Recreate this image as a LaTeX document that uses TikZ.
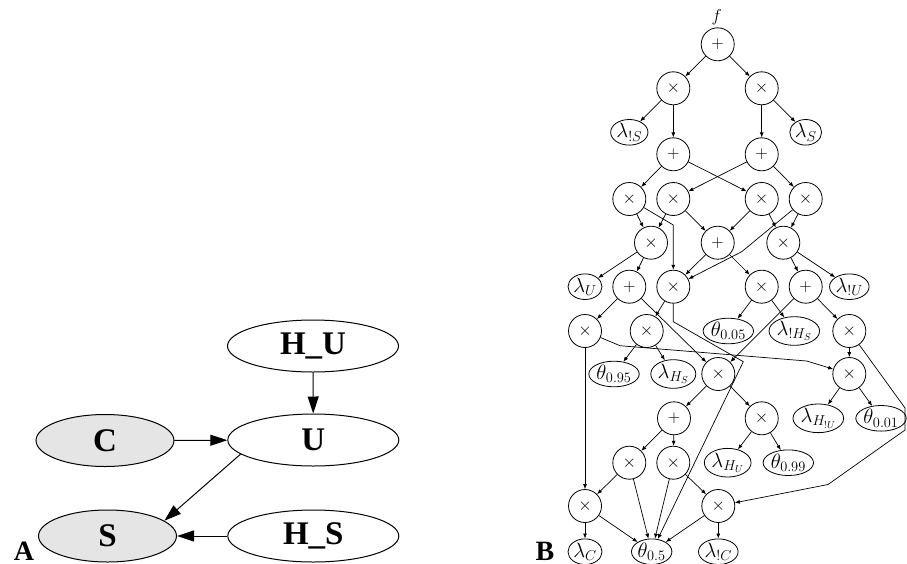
\documentclass[tikz,border=0pt]{standalone}
\usepackage{fontspec}
\newfontfamily\timesfam{Liberation Serif}
\usetikzlibrary{arrows.meta,shapes.geometric}
\definecolor{grayfill}{RGB}{229,229,229}
\tikzset{
  opnode/.style={circle, draw, line width=0.8pt, minimum size=33pt, inner sep=0pt, font=\fontsize{18}{20}\selectfont},
  leaf/.style={ellipse, draw, line width=0.8pt, inner sep=0.3pt, font=\fontsize{20}{22}\selectfont},
  bedge/.style={-{Latex[length=5pt,width=4pt]}, line width=0.7pt},
  bignode/.style={ellipse, draw, line width=1pt, minimum height=52pt, minimum width=171pt, font=\timesfam\bfseries\fontsize{33}{36}\selectfont},
  shaded/.style={fill=grayfill, minimum width=138pt},
  aedge/.style={-{Triangle[length=17pt,width=11pt]}, line width=1pt},
  panel/.style={font=\timesfam\bfseries\fontsize{28}{28}\selectfont, anchor=base, inner sep=0pt},
}
\begin{document}
\begin{tikzpicture}[x=1pt,y=-1pt]
\useasboundingbox (0,0) rectangle (907,563);
% ---------- Part A ----------
\node[bignode] (HU) at (313,346) {H\_U};
\node[bignode, shaded] (C) at (105,440.5) {C};
\node[bignode] (U) at (313.3,440) {U};
\node[bignode, shaded] (S) at (107.5,536) {S};
\node[bignode] (HS) at (313.3,536) {H\_S};
\draw[aedge] (HU) -- (U);
\draw[aedge] (C) -- (U);
\draw[aedge] (U.191) -- (S.15);
\draw[aedge] (HS) -- (S);
\node[panel] (labA) at (24,560.5) {A};
\node[panel] (labB) at (545,560) {B};
% ---------- Part B ----------
\node[opnode] (n0) at (717.7,44.3) {$+$};
\node[font=\fontsize{16}{18}\selectfont] (flab) at (716.7,17) {$f$};
\node[opnode] (n1) at (673.3,88.3) {$\times$};
\node[opnode] (n2) at (761.7,88.3) {$\times$};
\node[leaf] (lnS) at (629.3,132.3) {$\lambda_{!S}$};
\node[leaf] (lS) at (805.7,132.3) {$\lambda_{S}$};
\node[opnode] (n3) at (673.3,154.3) {$+$};
\node[opnode] (n4) at (761.7,154.3) {$+$};
\node[opnode] (a) at (629.3,199) {$\times$};
\node[opnode] (b) at (673.3,199) {$\times$};
\node[opnode] (c) at (761.7,199) {$\times$};
\node[opnode] (d) at (805.7,199) {$\times$};
\node[opnode] (e) at (651,242.7) {$\times$};
\node[opnode] (f) at (717.7,242.7) {$+$};
\node[opnode] (g) at (783.3,242.7) {$\times$};
\node[leaf] (lU) at (585,286.7) {$\lambda_{U}$};
\node[opnode] (h) at (629.3,286.7) {$+$};
\node[opnode] (i) at (673.3,286.7) {$\times$};
\node[opnode] (j) at (761.7,286.7) {$\times$};
\node[opnode] (k) at (805.7,286.7) {$+$};
\node[leaf] (lnU) at (849.3,286.7) {$\lambda_{!U}$};
\node[opnode] (l) at (585,331) {$\times$};
\node[opnode] (m) at (646.7,331) {$\times$};
\node[leaf] (t05) at (728.3,331) {$\theta_{0.05}$};
\node[leaf] (lnHS) at (794.3,331) {$\lambda_{!H_S}$};
\node[opnode] (n) at (849.3,331) {$\times$};
\node[leaf] (t95) at (614,374) {$\theta_{0.95}$};
\node[leaf] (lHS) at (673.3,374) {$\lambda_{H_S}$};
\node[opnode] (o) at (718.3,374) {$\times$};
\node[opnode] (p) at (849.3,374) {$\times$};
\node[opnode] (q) at (674,418.3) {$+$};
\node[opnode] (r) at (761.7,418.3) {$\times$};
\node[leaf] (lHnU) at (818.3,418.3) {$\lambda_{H_{!U}}$};
\node[leaf] (t01) at (881,418.3) {$\theta_{0.01}$};
\node[opnode] (s) at (629.3,462.7) {$\times$};
\node[opnode] (tt) at (673.3,462.7) {$\times$};
\node[leaf] (lHU) at (727.7,462.7) {$\lambda_{H_U}$};
\node[leaf] (t99) at (788.3,462.7) {$\theta_{0.99}$};
\node[opnode] (u) at (585,506) {$\times$};
\node[opnode] (v) at (718.3,506) {$\times$};
\node[leaf] (lC) at (585,551.7) {$\lambda_{C}$};
\node[leaf] (t5) at (651.7,551.7) {$\theta_{0.5}$};
\node[leaf] (lnC) at (718.3,551.7) {$\lambda_{!C}$};
% bend points
\coordinate (ai) at (673.3,225);
\coordinate (di) at (741.7,251.7);
\coordinate (it1) at (673.3,321.7);
\coordinate (it2) at (743.3,361.7);
\coordinate (lp1) at (620,345.7);
\coordinate (lp2) at (806.7,361);
\coordinate (nv1) at (905,408);
\coordinate (nv2) at (905,430);
\coordinate (nv3) at (828,484.5);
% edges
\draw[bedge] (n0) -- (n1);
\draw[bedge] (n0) -- (n2);
\draw[bedge] (n1) -- (lnS);
\draw[bedge] (n1) -- (n3);
\draw[bedge] (n2) -- (n4);
\draw[bedge] (n2) -- (lS);
\draw[bedge] (n3) -- (a);
\draw[bedge] (n3) -- (c);
\draw[bedge] (n4) -- (b);
\draw[bedge] (n4) -- (d);
\draw[bedge] (a) -- (e);
\draw[bedge] (a) -- (ai) -- (i);
\draw[bedge] (b) -- (e);
\draw[bedge] (b) -- (f);
\draw[bedge] (c) -- (f);
\draw[bedge] (c) -- (g);
\draw[bedge] (d) -- (g);
\draw[bedge] (d) -- (di) -- (i);
\draw[bedge] (e) -- (lU);
\draw[bedge] (e) -- (h);
\draw[bedge] (f) -- (i);
\draw[bedge] (f) -- (j);
\draw[bedge] (g) -- (k);
\draw[bedge] (g) -- (lnU);
\draw[bedge] (h) -- (l);
\draw[bedge] (h) -- (o);
\draw[bedge] (i) -- (m);
\draw[bedge] (i) -- (it1) -- (it2) -- (t5);
\draw[bedge] (j) -- (t05);
\draw[bedge] (j) -- (lnHS);
\draw[bedge] (k) -- (o);
\draw[bedge] (k) -- (n);
\draw[bedge] (l) -- (lp1) -- (lp2) -- (p);
\draw[bedge] (l) -- (u);
\draw[bedge] (m) -- (t95);
\draw[bedge] (m) -- (lHS);
\draw[bedge] (n) -- (p);
\draw[bedge] (n) -- (nv1) -- (nv2) -- (nv3) -- (v);
\draw[bedge] (o) -- (q);
\draw[bedge] (o) -- (r);
\draw[bedge] (p) -- (lHnU);
\draw[bedge] (p) -- (t01);
\draw[bedge] (q) -- (s);
\draw[bedge] (q) -- (tt);
\draw[bedge] (r) -- (lHU);
\draw[bedge] (r) -- (t99);
\draw[bedge] (s) -- (u);
\draw[bedge] (s) -- (t5);
\draw[bedge] (tt) -- (t5);
\draw[bedge] (tt) -- (v);
\draw[bedge] (u) -- (lC);
\draw[bedge] (u) -- (t5);
\draw[bedge] (v) -- (lnC);
\draw[bedge] (v) -- (t5);
\end{tikzpicture}
\end{document}
